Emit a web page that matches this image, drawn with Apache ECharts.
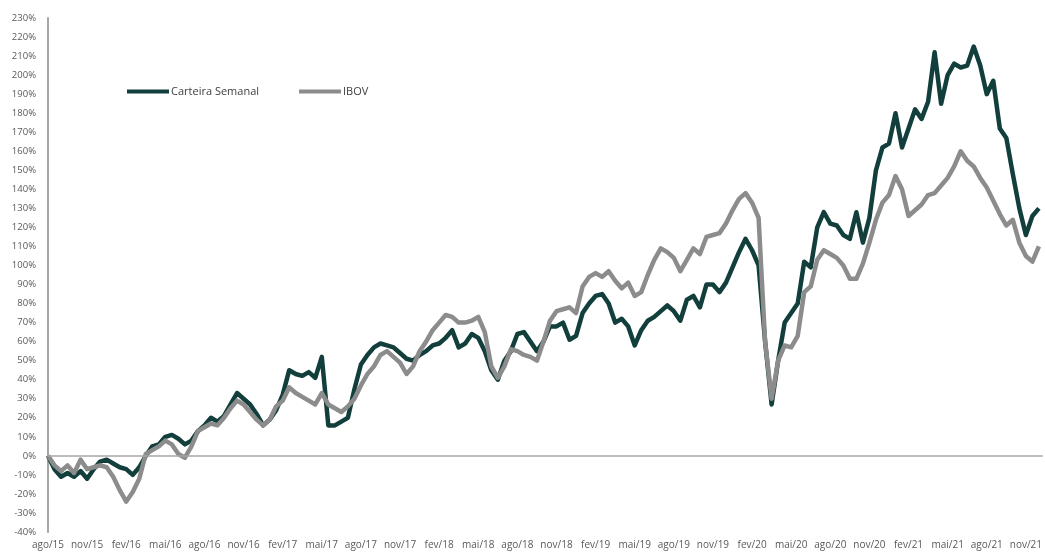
<!DOCTYPE html>
<html>
<head>
<meta charset="utf-8">
<script src="https://cdn.jsdelivr.net/npm/echarts@6/dist/echarts.min.js"></script>
<style>
html,body{margin:0;padding:0;background:#fff;}
#chart{width:1045px;height:552px;}
</style>
</head>
<body>
<div id="chart"></div>
<script>
// Quarterly tick labels (one every 3 months, starting Aug 2015)
const tickLabels = ['ago/15','nov/15','fev/16','mai/16','ago/16','nov/16','fev/17','mai/17','ago/17','nov/17',
  'fev/18','mai/18','ago/18','nov/18','fev/19','mai/19','ago/19','nov/19','fev/20','mai/20','ago/20','nov/20',
  'fev/21','mai/21','ago/21','nov/21'];
// One observation every half month, starting Aug 2015 (values in %)
const stepMonths = 0.5;
const carteiraSemanal = [
  0,-7,-11,-9,-11,-8,-12,-7,-3,-2,
  -4,-6,-7,-10,-6,0,5,6,10,11,
  9,6,8,13,16,20,18,21,27,33,
  30,27,22,16,19,24,32,45,43,42,
  44,41,52,16,16,18,20,35,48,53,
  57,59,58,57,54,51,50,53,55,58,
  59,62,66,57,59,64,62,55,45,40,
  50,55,64,65,60,55,60,68,68,70,
  61,63,75,80,84,85,80,70,72,68,
  58,66,71,73,76,79,76,71,82,84,
  78,90,90,86,91,99,107,114,108,100,
  60,27,50,70,75,80,102,99,120,128,
  122,121,116,114,128,112,125,150,162,164,
  180,162,172,182,177,186,212,185,200,206,
  204,205,215,205,190,197,172,167,148,130,
  116,126,130
];
const ibov = [
  0,-5,-8,-5,-9,-2,-7,-6,-5,-6,
  -11,-18,-24,-19,-12,1,3,5,8,6,
  1,-1,5,13,15,17,16,20,25,29,
  27,23,19,16,19,26,29,36,33,31,
  29,27,33,27,25,23,26,30,37,43,
  47,53,55,52,49,43,47,55,60,66,
  70,74,73,70,70,71,73,65,47,41,
  47,56,55,53,52,50,60,71,76,77,
  78,75,89,94,96,94,97,92,88,91,
  84,86,95,103,109,107,104,97,103,109,
  106,115,116,117,122,129,135,138,133,125,
  60,30,50,58,57,63,86,89,103,108,
  106,104,100,93,93,101,112,124,133,137,
  147,140,126,129,132,137,138,142,146,152,
  160,155,152,146,141,134,127,121,124,112,
  105,102,110
];
const seriesNames = ['Carteira Semanal', 'IBOV'];
const yTicks = {min: -40, max: 230, interval: 10};

const toPairs = arr => arr.map((v, i) => [i * stepMonths, v]);
const FONT = '"Open Sans", "Noto Sans", sans-serif';

const chart = echarts.init(document.getElementById('chart'));
chart.setOption({
  animation: false,
  backgroundColor: '#ffffff',
  grid: {left: 48, right: 0, top: 18, bottom: 20, containLabel: false},
  legend: {
    left: 122, top: 81,
    itemWidth: 42, itemHeight: 4, itemGap: 40,
    icon: 'rect',
    textStyle: {fontFamily: FONT, fontSize: 11, color: '#404040', padding: [0,0,0,-3]},
    data: seriesNames
  },
  xAxis: {
    type: 'value',
    min: 0, max: 76.3, interval: 3,
    axisLine: {show: false, onZero: false},
    axisTick: {show: false},
    splitLine: {show: false},
    axisLabel: {
      showMaxLabel: false,
      margin: 8,
      fontFamily: FONT, fontSize: 10, color: '#595959',
      formatter: v => tickLabels[Math.round(v / 3)] || ''
    }
  },
  yAxis: {
    type: 'value',
    min: yTicks.min, max: yTicks.max, interval: yTicks.interval,
    axisLine: {show: true, onZero: false, lineStyle: {color: '#a6a6a6', width: 2}},
    axisTick: {show: false},
    splitLine: {show: false},
    axisLabel: {
      margin: 12,
      fontFamily: FONT, fontSize: 9.5, color: '#595959',
      formatter: v => v + '%'
    }
  },
  series: [
    {
      name: seriesNames[0], type: 'line', data: toPairs(carteiraSemanal),
      showSymbol: false, symbol: 'none',
      lineStyle: {color: '#123f3c', width: 4.5, join: 'round'},
      itemStyle: {color: '#123f3c'},
      markLine: {
        silent: true, symbol: 'none', label: {show: false},
        lineStyle: {color: '#a6a6a6', width: 1.5, type: 'solid'},
        data: [{yAxis: 0}]
      }
    },
    {
      name: seriesNames[1], type: 'line', data: toPairs(ibov),
      showSymbol: false, symbol: 'none',
      lineStyle: {color: '#8c8c8c', width: 4.5, join: 'round'},
      itemStyle: {color: '#8c8c8c'}
    }
  ]
});
</script>
</body>
</html>
